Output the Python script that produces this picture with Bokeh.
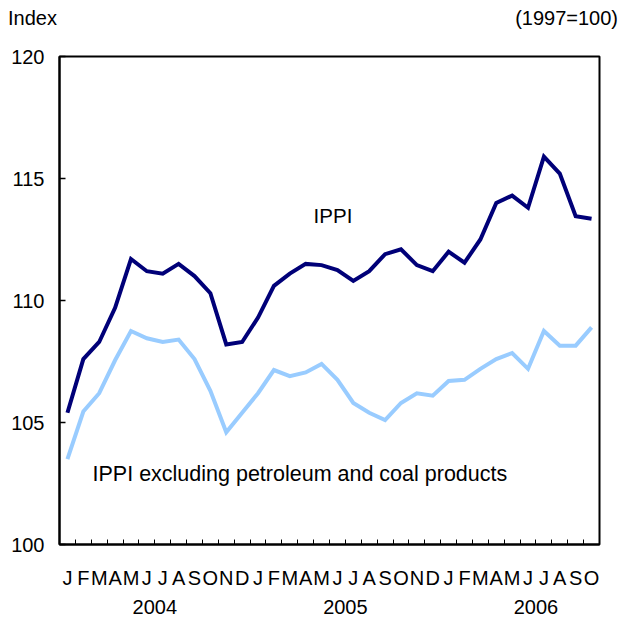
from bokeh.plotting import figure
from bokeh.models import FixedTicker, Range1d, LinearAxis, Div
from bokeh.layouts import column
from bokeh.core.properties import value
from bokeh.embed import file_html
from bokeh.resources import INLINE

# ---- data ----
month_letters = ["J", "F", "M", "A", "M", "J", "J", "A", "S", "O", "N", "D"]
years = ["2004", "2005", "2006"]
n_months = 34  # Jan 2004 .. Oct 2006
month_labels = [month_letters[i % 12] for i in range(n_months)]

ippi = [105.4, 107.6, 108.3, 109.7, 111.7, 111.2, 111.1, 111.5, 111.0, 110.3, 108.2, 108.3,
        109.3, 110.6, 111.1, 111.5, 111.45, 111.25, 110.8, 111.2, 111.9, 112.1, 111.45, 111.2,
        112.0, 111.55, 112.5, 114.0, 114.3, 113.8, 115.9, 115.2, 113.45, 113.35]
ippi_excl = [103.5, 105.45, 106.2, 107.55, 108.75, 108.45, 108.3, 108.4, 107.6, 106.3, 104.6, 105.4,
             106.2, 107.15, 106.9, 107.05, 107.4, 106.75, 105.8, 105.4, 105.1, 105.8, 106.2, 106.1,
             106.7, 106.75, 107.2, 107.6, 107.85, 107.2, 108.75, 108.15, 108.15, 108.9]
y_ticks = [100, 105, 110, 115, 120]
unit_left = "Index"
unit_right = "(1997=100)"

FONT = "Liberation Sans"
DARK = "#000078"
LIGHT = "#99ccff"

x = list(range(n_months))

header = Div(
    text=(f"<div style='display:flex;justify-content:space-between;width:620px;box-sizing:border-box;"
          f"padding-left:8px;padding-right:2px;font-family:\"Liberation Sans\",Arial,sans-serif;"
          f"font-size:20px;line-height:36px;color:black;'>"
          f"<span>{unit_left}</span><span>{unit_right}</span></div>"),
    width=622, height=36, margin=(0, 0, 0, 0))

p = figure(width=620, height=582, output_backend="svg", toolbar_location=None,
           x_range=Range1d(-0.5, n_months - 0.5), y_range=Range1d(100, 120),
           min_border_left=59, min_border_right=21, min_border_top=20, min_border_bottom=74,
           margin=(0, 0, 0, 0))
p.grid.visible = False
p.outline_line_color = "black"
p.outline_line_width = 2
p.background_fill_color = "white"
p.border_fill_color = "white"

p.line(x, ippi, line_color=DARK, line_width=4, line_join="miter")
p.line(x, ippi_excl, line_color=LIGHT, line_width=4, line_join="miter")

# series labels
p.text(x=[15.5], y=[113.48], text=["IPPI"], text_font=value(FONT), text_font_size="20.5px",
       text_baseline="middle", text_align="left", text_color="black")
p.text(x=[1.58], y=[102.87], text=["IPPI excluding petroleum and coal products"],
       text_font=value(FONT), text_font_size="21.5px",
       text_baseline="middle", text_align="left", text_color="black")

# x axis: month letters as major labels, month boundaries as minor ticks
xa = p.xaxis[0]
xa.ticker = FixedTicker(ticks=x, minor_ticks=[i + 0.5 for i in range(n_months - 1)])
xa.major_label_overrides = {i: lbl for i, lbl in enumerate(month_labels)}
xa.major_tick_in = 0
xa.major_tick_out = 0
xa.minor_tick_in = 5
xa.minor_tick_out = 0
xa.minor_tick_line_color = "black"
xa.minor_tick_line_width = 1
xa.axis_line_color = "black"
xa.axis_line_width = 2
xa.major_label_text_font = FONT
xa.major_label_text_font_size = "20px"
xa.major_label_text_color = "black"
xa.major_label_standoff = 22

# second x axis: years, centred on the middle of each year
year_axis = LinearAxis(ticker=FixedTicker(ticks=[12 * k + 5.5 for k in range(len(years))]),
                       major_label_overrides={12 * k + 5.5: yr for k, yr in enumerate(years)})
year_axis.axis_line_color = None
year_axis.major_tick_line_color = None
year_axis.minor_tick_line_color = None
year_axis.major_tick_in = 0
year_axis.major_tick_out = 0
year_axis.major_label_text_font = FONT
year_axis.major_label_text_font_size = "20px"
year_axis.major_label_text_color = "black"
year_axis.major_label_standoff = 8
p.add_layout(year_axis, "below")

ya = p.yaxis[0]
ya.ticker = FixedTicker(ticks=y_ticks)
ya.major_tick_in = 6
ya.major_tick_out = 0
ya.major_tick_line_color = "black"
ya.major_tick_line_width = 1.5
ya.minor_tick_line_color = None
ya.axis_line_color = "black"
ya.axis_line_width = 2
ya.major_label_text_font = FONT
ya.major_label_text_font_size = "20px"
ya.major_label_text_color = "black"
ya.major_label_standoff = 15

layout = column(header, p, spacing=0, margin=(0, 0, 0, 0))
open("out.html", "w").write(file_html(layout, INLINE))
